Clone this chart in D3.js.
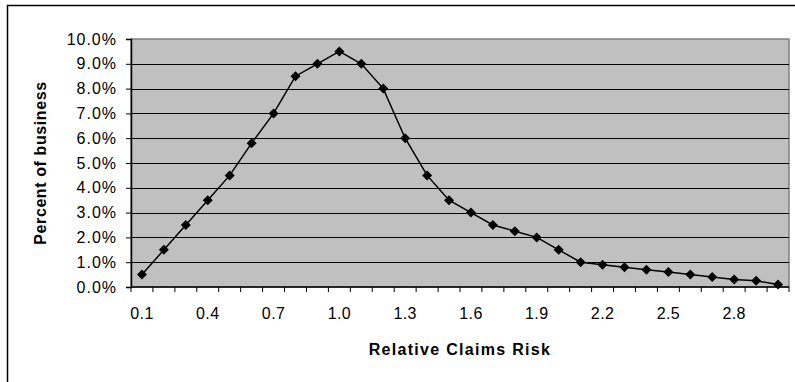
<!DOCTYPE html>
<html>
<head>
<meta charset="utf-8">
<script src="https://cdn.jsdelivr.net/npm/d3@7"></script>
<style>
  html, body { margin: 0; padding: 0; background: #fff; }
  svg { display: block; }
  text { font-family: "Liberation Sans", Arial, sans-serif; fill: #000; }
</style>
</head>
<body>
<script>
// Relative claims risk buckets (x categories)
const categories = ["0.1","0.2","0.3","0.4","0.5","0.6","0.7","0.8","0.9","1.0",
                    "1.1","1.2","1.3","1.4","1.5","1.6","1.7","1.8","1.9","2.0",
                    "2.1","2.2","2.3","2.4","2.5","2.6","2.7","2.8","2.9","3.0"];
// Share of business in each bucket (fraction)
const percentOfBusiness = [0.005,0.015,0.025,0.035,0.045,0.058,0.070,0.085,0.090,0.095,
                           0.090,0.080,0.060,0.045,0.035,0.030,0.025,0.0225,0.020,0.015,
                           0.010,0.009,0.008,0.007,0.006,0.005,0.004,0.003,0.0025,0.001];
// Category labels shown on the x axis
const xTickLabels = ["0.1","0.4","0.7","1.0","1.3","1.6","1.9","2.2","2.5","2.8"];
// Y axis ticks
const yTicks = [0,0.01,0.02,0.03,0.04,0.05,0.06,0.07,0.08,0.09,0.10];

const W = 795, H = 382;
const plot = { left: 131, top: 39, right: 789, bottom: 287 };

const svg = d3.select("body").append("svg").attr("width", W).attr("height", H);

// Chart frame
svg.append("rect")
  .attr("x", 7.5).attr("y", 5.5)
  .attr("width", W + 10).attr("height", H + 10)
  .attr("fill", "#fff").attr("stroke", "#000").attr("stroke-width", 1.5);

const x = d3.scaleBand().domain(categories).range([plot.left, plot.right]).padding(0);
const y = d3.scaleLinear().domain([0, 0.10]).range([plot.bottom, plot.top]);

// Plot area
svg.append("rect")
  .attr("x", plot.left).attr("y", plot.top)
  .attr("width", plot.right - plot.left).attr("height", plot.bottom - plot.top)
  .attr("fill", "#c0c0c0").attr("stroke", "#808080").attr("stroke-width", 1.5);

// Horizontal gridlines
svg.append("g").selectAll("line")
  .data(yTicks.filter(d => d > 0 && d < 0.10))
  .join("line")
  .attr("x1", plot.left).attr("x2", plot.right)
  .attr("y1", d => Math.round(y(d)) + 0.5).attr("y2", d => Math.round(y(d)) + 0.5)
  .attr("stroke", "#000").attr("stroke-width", 1);

// Y axis
const yAxis = svg.append("g")
  .attr("transform", `translate(${plot.left},0)`)
  .call(d3.axisLeft(y).tickValues(yTicks).tickFormat(d3.format(".1%")).tickSize(5).tickPadding(9));
yAxis.select(".domain").attr("stroke", "#000").attr("stroke-width", 1.5);
yAxis.selectAll(".tick line").attr("stroke", "#000");
yAxis.selectAll(".tick text")
  .attr("font-size", 16).attr("font-family", "Liberation Sans, Arial, sans-serif")
  .attr("letter-spacing", 1).attr("fill", "#000");

// X axis: labels at every third category, tick marks on category boundaries
const xAxis = svg.append("g")
  .attr("transform", `translate(0,${plot.bottom})`)
  .call(d3.axisBottom(x).tickValues(xTickLabels).tickSize(0).tickPadding(21));
xAxis.select(".domain").remove();
xAxis.selectAll(".tick text")
  .attr("font-size", 16).attr("font-family", "Liberation Sans, Arial, sans-serif")
  .attr("letter-spacing", 0.4).attr("fill", "#000");

const boundaries = categories.map(c => x(c)).concat([x.range()[1]]);
svg.append("g").selectAll("line")
  .data(boundaries)
  .join("line")
  .attr("x1", d => d).attr("x2", d => d)
  .attr("y1", plot.bottom).attr("y2", plot.bottom + 5)
  .attr("stroke", "#000").attr("stroke-width", 1);

svg.append("line")
  .attr("x1", plot.left).attr("x2", plot.right)
  .attr("y1", plot.bottom).attr("y2", plot.bottom)
  .attr("stroke", "#000").attr("stroke-width", 1.5);

// Series line
const line = d3.line()
  .x((d, i) => x(categories[i]) + x.bandwidth() / 2)
  .y(d => y(d));
svg.append("path")
  .datum(percentOfBusiness)
  .attr("d", line)
  .attr("fill", "none").attr("stroke", "#000").attr("stroke-width", 1.5);

// Diamond markers
const diamond = d3.symbol(d3.symbolSquare, 50);
svg.append("g").selectAll("path")
  .data(percentOfBusiness)
  .join("path")
  .attr("d", diamond)
  .attr("transform", (d, i) => `translate(${x(categories[i]) + x.bandwidth() / 2},${y(d)}) rotate(45)`)
  .attr("fill", "#000");

// Axis titles
svg.append("text")
  .attr("x", (plot.left + plot.right) / 2).attr("y", 355)
  .attr("text-anchor", "middle")
  .attr("font-size", 16).attr("font-weight", "bold").attr("letter-spacing", 1.3)
  .text("Relative Claims Risk");

svg.append("text")
  .attr("transform", `translate(46,${(plot.top + plot.bottom) / 2}) rotate(-90)`)
  .attr("text-anchor", "middle")
  .attr("font-size", 16).attr("font-weight", "bold").attr("letter-spacing", 0.6)
  .text("Percent of business");
</script>
</body>
</html>
